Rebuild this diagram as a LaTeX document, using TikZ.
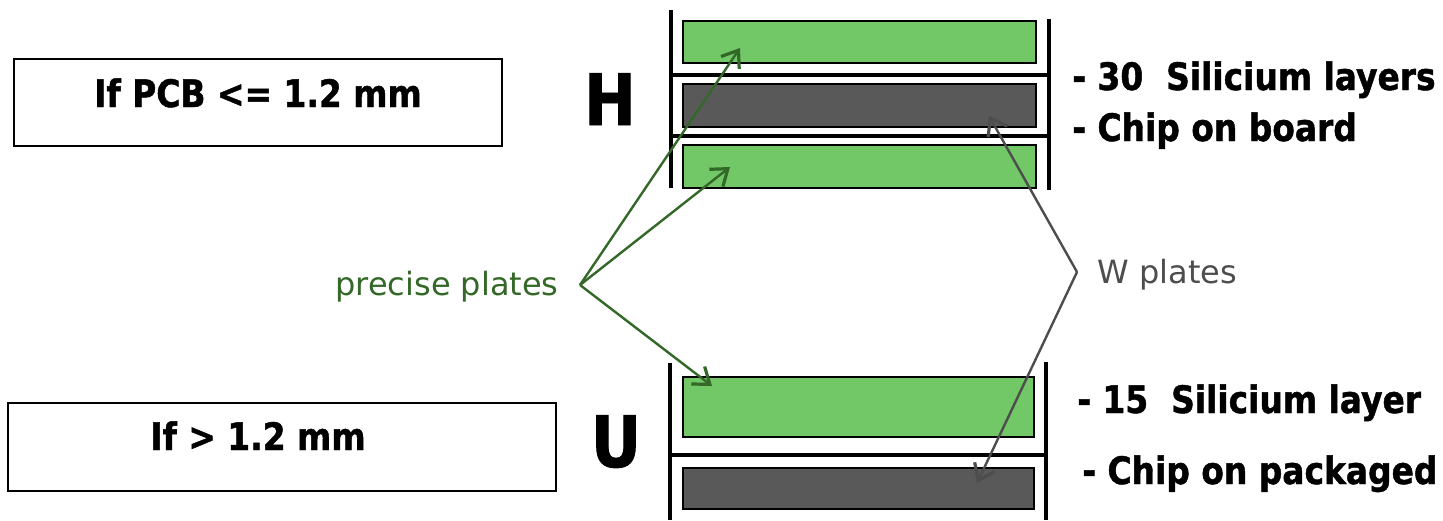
\documentclass[tikz,border=0pt]{standalone}
\usepackage{fontspec}
\setmainfont{DejaVu Sans}
\newfontfamily\tb[FakeStretch=0.87,BoldFeatures={FakeBold=1.2}]{DejaVu Sans}
\usetikzlibrary{arrows.meta}
\definecolor{plgreen}{RGB}{114,199,103}
\definecolor{pldark}{RGB}{89,89,89}
\definecolor{txgreen}{RGB}{52,104,40}
\definecolor{txgray}{RGB}{77,77,77}
\begin{document}
\begin{tikzpicture}[x=0.5pt,y=-0.5pt,
  plate/.style={draw=black,line width=1pt,inner sep=0pt,minimum width=176.5pt},
  greenplate/.style={plate,fill=plgreen},
  darkplate/.style={plate,fill=pldark},
  frame/.style={line width=2.2pt,line cap=butt},
  condbox/.style={draw=black,line width=0.9pt,inner sep=0pt},
  boldtxt/.style={font=\tb\bfseries\fontsize{18.9}{22}\selectfont,inner sep=0pt},
  bigtxt/.style={font=\tb\bfseries\fontsize{35.5}{40}\selectfont,inner sep=0pt},
  regtxt/.style={font=\fontsize{16}{19}\selectfont,inner sep=0pt},
  greenarrow/.style={draw=txgreen,line width=1.2pt,-{Straight Barb[length=7.5pt,width=11pt,line width=1.6pt]}},
  grayarrow/.style={draw=txgray,line width=1.2pt,-{Straight Barb[length=7.5pt,width=11pt,line width=1.6pt]}}
]
\useasboundingbox (0,0) rectangle (1443,520);

% condition boxes
\node[condbox,minimum width=244pt,minimum height=43.5pt] (c1) at (258,102.5) {};
\node[boldtxt,anchor=base] (c1t) at (258,107) {If PCB <= 1.2 mm};
\node[condbox,minimum width=274pt,minimum height=44pt] (c2) at (282,447) {};
\node[boldtxt,anchor=base] (c2t) at (258,450) {If > 1.2 mm};

% big letters
\node[bigtxt,anchor=base] (H) at (610,125) {H};
\node[bigtxt,anchor=base] (U) at (616,467) {U};

% plates
\node[greenplate,minimum height=21pt] (g1) at (859.5,42) {};
\node[darkplate,minimum height=21.5pt] (d1) at (859.5,105.5) {};
\node[greenplate,minimum height=21.5pt] (g2) at (859.5,166.5) {};
\node[greenplate,minimum width=175.5pt,minimum height=30pt] (g3) at (858.5,407) {};
\node[darkplate,minimum width=175.5pt,minimum height=20.5pt] (d2) at (858.5,488.5) {};

% frames
\draw[frame] (671,10) -- (671,188);
\draw[frame] (1049,19) -- (1049,190);
\draw[frame] (671,75) -- (1050,75);
\draw[frame] (671,136) -- (1050,136);
\draw[frame] (670,363) -- (670,520);
\draw[frame] (1046,362) -- (1046,520);
\draw[frame] (670,455) -- (1048,455);

% right texts
\node[boldtxt,anchor=base west] (r1) at (1072,90) {- 30\ \ Silicium layers};
\node[boldtxt,anchor=base west] (r2) at (1072,141) {- Chip on board};
\node[boldtxt,anchor=base west] (r3) at (1077,413) {- 15\ \ Silicium layer};
\node[boldtxt,anchor=base west] (r4) at (1082,484) {- Chip on packaged};

% labels
\node[regtxt,text=txgreen,anchor=base west] (pl) at (335,295) {precise plates};
\node[regtxt,text=txgray,anchor=base west] (wl) at (1097,283) {W plates};

% arrows
\coordinate (pp) at (580,285);
\coordinate (wp) at (1077,272);
\coordinate (pt1) at (740,48);
\coordinate (pt2) at (730,167);
\coordinate (pt3) at (712,386);
\coordinate (wt1) at (989,116);
\coordinate (wt2) at (977,483);
\draw[greenarrow] (pp) -- (pt1);
\draw[greenarrow] (pp) -- (pt2);
\draw[greenarrow] (pp) -- (pt3);
\draw[grayarrow] (wp) -- (wt1);
\draw[grayarrow] (wp) -- (wt2);
\end{tikzpicture}
\end{document}
